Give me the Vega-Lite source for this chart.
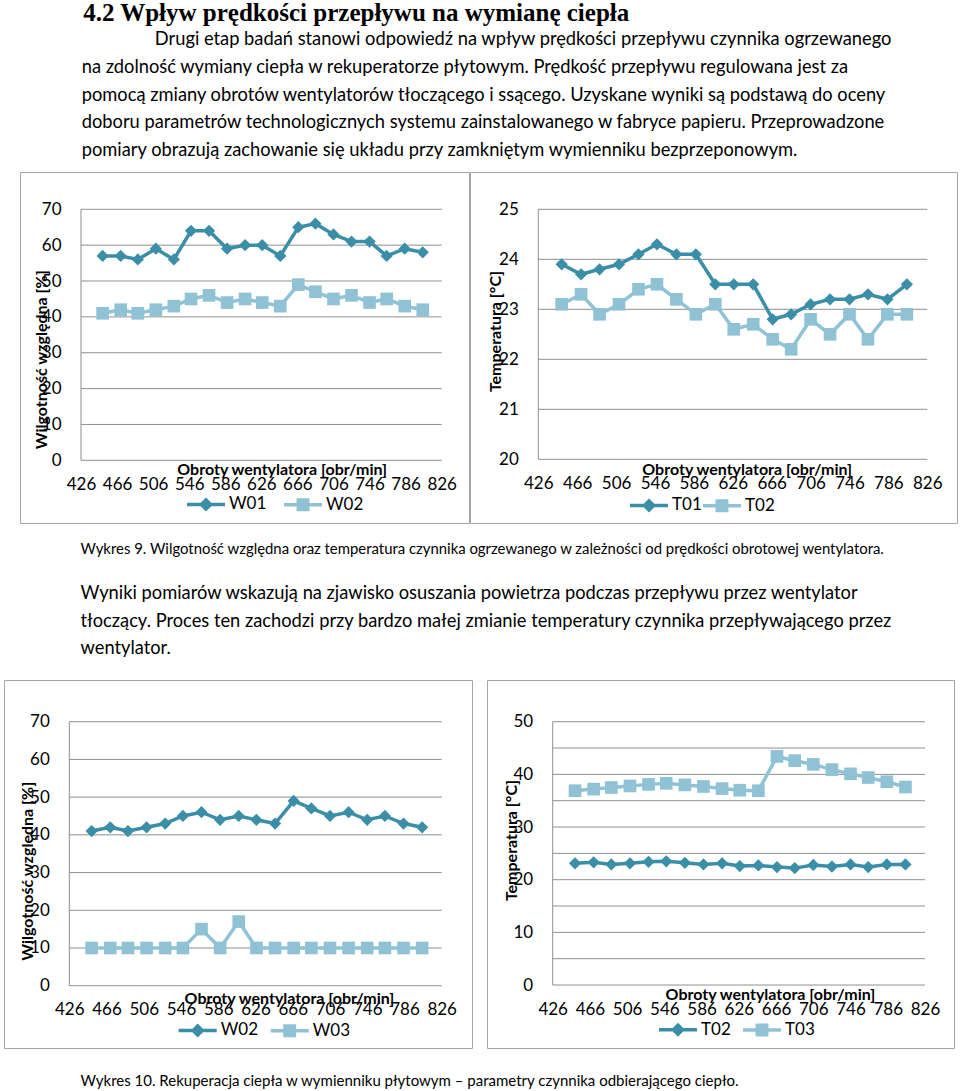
{
"$schema": "https://vega.github.io/schema/vega-lite/v6.json",
"background": "white",
"padding": {"left": 3, "top": 0, "right": 0, "bottom": 0},
"config": {
  "font": "Lato",
  "view": {"stroke": "#a5a5a5", "strokeWidth": 1},
  "axis": {"labelFont": "Lato", "titleFont": "Lato", "labelColor": "black", "titleColor": "black", "labelFontSize": 17, "titleFontSize": 16, "titleFontWeight": "bold", "domain": false, "ticks": false, "tickSize": 0, "grid": false, "labelPadding": 16, "labelOverlap": false, "labelFlush": false},
  "axisLeft": {"labelPadding": 20},
  "legend": {"labelFont": "Lato", "labelFontSize": 17, "labelColor": "black", "symbolOpacity": 1, "padding": 0},
  "title": {"color": "black", "subtitleColor": "black"}
},
"datasets": {
  "g1": [{"v":0},{"v":10},{"v":20},{"v":30},{"v":40},{"v":50},{"v":60},{"v":70}],
  "g2": [{"v":20},{"v":21},{"v":22},{"v":23},{"v":24},{"v":25}],
  "g4": [{"v":0},{"v":5},{"v":10},{"v":15},{"v":20},{"v":25},{"v":30},{"v":35},{"v":40},{"v":45},{"v":50}],
  "c1": [
    {"rpm":450,"series":"W01","value":57},{"rpm":470,"series":"W01","value":57},{"rpm":489,"series":"W01","value":56},{"rpm":509,"series":"W01","value":59},{"rpm":529,"series":"W01","value":56},{"rpm":548,"series":"W01","value":64},{"rpm":568,"series":"W01","value":64},{"rpm":588,"series":"W01","value":59},{"rpm":608,"series":"W01","value":60},{"rpm":627,"series":"W01","value":60},{"rpm":647,"series":"W01","value":57},{"rpm":667,"series":"W01","value":65},{"rpm":686,"series":"W01","value":66},{"rpm":706,"series":"W01","value":63},{"rpm":726,"series":"W01","value":61},{"rpm":746,"series":"W01","value":61},{"rpm":765,"series":"W01","value":57},{"rpm":785,"series":"W01","value":59},{"rpm":805,"series":"W01","value":58},
    {"rpm":450,"series":"W02","value":41},{"rpm":470,"series":"W02","value":42},{"rpm":489,"series":"W02","value":41},{"rpm":509,"series":"W02","value":42},{"rpm":529,"series":"W02","value":43},{"rpm":548,"series":"W02","value":45},{"rpm":568,"series":"W02","value":46},{"rpm":588,"series":"W02","value":44},{"rpm":608,"series":"W02","value":45},{"rpm":627,"series":"W02","value":44},{"rpm":647,"series":"W02","value":43},{"rpm":667,"series":"W02","value":49},{"rpm":686,"series":"W02","value":47},{"rpm":706,"series":"W02","value":45},{"rpm":726,"series":"W02","value":46},{"rpm":746,"series":"W02","value":44},{"rpm":765,"series":"W02","value":45},{"rpm":785,"series":"W02","value":43},{"rpm":805,"series":"W02","value":42}
  ],
  "c2": [
    {"rpm":450,"series":"T01","value":23.9},{"rpm":470,"series":"T01","value":23.7},{"rpm":489,"series":"T01","value":23.8},{"rpm":509,"series":"T01","value":23.9},{"rpm":529,"series":"T01","value":24.1},{"rpm":548,"series":"T01","value":24.3},{"rpm":568,"series":"T01","value":24.1},{"rpm":588,"series":"T01","value":24.1},{"rpm":608,"series":"T01","value":23.5},{"rpm":627,"series":"T01","value":23.5},{"rpm":647,"series":"T01","value":23.5},{"rpm":667,"series":"T01","value":22.8},{"rpm":686,"series":"T01","value":22.9},{"rpm":706,"series":"T01","value":23.1},{"rpm":726,"series":"T01","value":23.2},{"rpm":746,"series":"T01","value":23.2},{"rpm":765,"series":"T01","value":23.3},{"rpm":785,"series":"T01","value":23.2},{"rpm":805,"series":"T01","value":23.5},
    {"rpm":450,"series":"T02","value":23.1},{"rpm":470,"series":"T02","value":23.3},{"rpm":489,"series":"T02","value":22.9},{"rpm":509,"series":"T02","value":23.1},{"rpm":529,"series":"T02","value":23.4},{"rpm":548,"series":"T02","value":23.5},{"rpm":568,"series":"T02","value":23.2},{"rpm":588,"series":"T02","value":22.9},{"rpm":608,"series":"T02","value":23.1},{"rpm":627,"series":"T02","value":22.6},{"rpm":647,"series":"T02","value":22.7},{"rpm":667,"series":"T02","value":22.4},{"rpm":686,"series":"T02","value":22.2},{"rpm":706,"series":"T02","value":22.8},{"rpm":726,"series":"T02","value":22.5},{"rpm":746,"series":"T02","value":22.9},{"rpm":765,"series":"T02","value":22.4},{"rpm":785,"series":"T02","value":22.9},{"rpm":805,"series":"T02","value":22.9}
  ],
  "c3": [
    {"rpm":450,"series":"W02","value":41},{"rpm":470,"series":"W02","value":42},{"rpm":489,"series":"W02","value":41},{"rpm":509,"series":"W02","value":42},{"rpm":529,"series":"W02","value":43},{"rpm":548,"series":"W02","value":45},{"rpm":568,"series":"W02","value":46},{"rpm":588,"series":"W02","value":44},{"rpm":608,"series":"W02","value":45},{"rpm":627,"series":"W02","value":44},{"rpm":647,"series":"W02","value":43},{"rpm":667,"series":"W02","value":49},{"rpm":686,"series":"W02","value":47},{"rpm":706,"series":"W02","value":45},{"rpm":726,"series":"W02","value":46},{"rpm":746,"series":"W02","value":44},{"rpm":765,"series":"W02","value":45},{"rpm":785,"series":"W02","value":43},{"rpm":805,"series":"W02","value":42},
    {"rpm":450,"series":"W03","value":10},{"rpm":470,"series":"W03","value":10},{"rpm":489,"series":"W03","value":10},{"rpm":509,"series":"W03","value":10},{"rpm":529,"series":"W03","value":10},{"rpm":548,"series":"W03","value":10},{"rpm":568,"series":"W03","value":15},{"rpm":588,"series":"W03","value":10},{"rpm":608,"series":"W03","value":17},{"rpm":627,"series":"W03","value":10},{"rpm":647,"series":"W03","value":10},{"rpm":667,"series":"W03","value":10},{"rpm":686,"series":"W03","value":10},{"rpm":706,"series":"W03","value":10},{"rpm":726,"series":"W03","value":10},{"rpm":746,"series":"W03","value":10},{"rpm":765,"series":"W03","value":10},{"rpm":785,"series":"W03","value":10},{"rpm":805,"series":"W03","value":10}
  ],
  "c4": [
    {"rpm":450,"series":"T02","value":23.1},{"rpm":470,"series":"T02","value":23.3},{"rpm":489,"series":"T02","value":22.9},{"rpm":509,"series":"T02","value":23.1},{"rpm":529,"series":"T02","value":23.4},{"rpm":548,"series":"T02","value":23.5},{"rpm":568,"series":"T02","value":23.2},{"rpm":588,"series":"T02","value":22.9},{"rpm":608,"series":"T02","value":23.1},{"rpm":627,"series":"T02","value":22.6},{"rpm":647,"series":"T02","value":22.7},{"rpm":667,"series":"T02","value":22.4},{"rpm":686,"series":"T02","value":22.2},{"rpm":706,"series":"T02","value":22.8},{"rpm":726,"series":"T02","value":22.5},{"rpm":746,"series":"T02","value":22.9},{"rpm":765,"series":"T02","value":22.4},{"rpm":785,"series":"T02","value":22.9},{"rpm":805,"series":"T02","value":22.9},
    {"rpm":450,"series":"T03","value":36.9},{"rpm":470,"series":"T03","value":37.2},{"rpm":489,"series":"T03","value":37.5},{"rpm":509,"series":"T03","value":37.8},{"rpm":529,"series":"T03","value":38.1},{"rpm":548,"series":"T03","value":38.3},{"rpm":568,"series":"T03","value":38.0},{"rpm":588,"series":"T03","value":37.7},{"rpm":608,"series":"T03","value":37.3},{"rpm":627,"series":"T03","value":37.0},{"rpm":647,"series":"T03","value":36.9},{"rpm":667,"series":"T03","value":43.4},{"rpm":686,"series":"T03","value":42.6},{"rpm":706,"series":"T03","value":41.9},{"rpm":726,"series":"T03","value":40.9},{"rpm":746,"series":"T03","value":40.1},{"rpm":765,"series":"T03","value":39.4},{"rpm":785,"series":"T03","value":38.6},{"rpm":805,"series":"T03","value":37.6}
  ]
},
"title": {"text": "Wykres 10. Rekuperacja ciepła w wymienniku płytowym – parametry czynnika odbierającego ciepło.", "orient": "bottom", "anchor": "start", "dx": 77, "font": "Lato", "fontSize": 15, "fontWeight": "normal", "baseline": "top", "offset": 25},
"spacing": 17,
"resolve": {"scale": {"color": "independent", "shape": "independent", "stroke": "independent"}, "legend": {"color": "independent", "shape": "independent", "stroke": "independent"}},
"vconcat": [
  {
    "title": {
      "text": "\u200B\u2003\u2003\u2003\u20064.2 Wpływ prędkości przepływu na wymianę ciepła",
      "subtitle": [
        "\u200B\u2003\u2003\u2003\u2003\u2003\u2003\u2003\u2003\u2003\u2003\u2005\u2005\u2005Drugi etap badań stanowi odpowiedź na wpływ prędkości przepływu czynnika ogrzewanego",
        "\u200B\u2003\u2003\u2003\u2003\u2003\u2005\u2005na zdolność wymiany ciepła w rekuperatorze płytowym. Prędkość przepływu regulowana jest za",
        "\u200B\u2003\u2003\u2003\u2003\u2003\u2005\u2005pomocą zmiany obrotów wentylatorów tłoczącego i ssącego.  Uzyskane wyniki są podstawą do oceny",
        "\u200B\u2003\u2003\u2003\u2003\u2003\u2005\u2005doboru parametrów technologicznych systemu zainstalowanego w fabryce papieru. Przeprowadzone",
        "\u200B\u2003\u2003\u2003\u2003\u2003\u2005\u2005pomiary obrazują zachowanie się układu przy zamkniętym wymienniku bezprzeponowym."
      ],
      "anchor": "start", "font": "Liberation Serif", "fontSize": 25, "fontWeight": "bold",
      "subtitleFont": "Lato", "subtitleFontSize": 18.3, "subtitleLineHeight": 27.7, "subtitlePadding": 5.5, "offset": 12, "baseline": "top"
    },
    "spacing": -1,
    "resolve": {"scale": {"color": "independent", "shape": "independent", "stroke": "independent"}, "legend": {"color": "independent", "shape": "independent", "stroke": "independent"}},
    "hconcat": [
      {"width": 16, "height": 10, "data": {"values": []}, "mark": {"type": "point"}, "view": {"stroke": null}},
      {
        "width": 449, "height": 351,
        "layer": [
          {"data": {"name": "g1"}, "mark": {"type": "rule", "color": "#8f8f8f", "strokeWidth": 1},
           "encoding": {
             "x": {"datum": 426, "type": "quantitative", "scale": {"domain": [358.35, 856.3], "nice": false, "zero": false}},
             "x2": {"datum": 826},
             "y": {"field": "v", "type": "quantitative", "scale": {"domain": [-17.48, 80.4], "nice": false, "zero": false}}}},
          {"data": {"values": [{"a": 1}]}, "mark": {"type": "rule", "color": "#8f8f8f", "strokeWidth": 1},
           "encoding": {"x": {"datum": 426, "type": "quantitative"}, "y": {"datum": 0, "type": "quantitative"}, "y2": {"datum": 70}}},
          {"data": {"name": "c1"}, "mark": {"type": "line", "strokeWidth": 3.5},
           "encoding": {
             "x": {"field": "rpm", "type": "quantitative", "scale": {"domain": [358.35, 856.3], "nice": false, "zero": false},
                   "axis": {"orient": "bottom", "offset": -62.7, "values": [426,466,506,546,586,626,666,706,746,786,826], "title": "Obroty wentylatora [obr/min]", "titleX": 261.7, "titleY": 1.4, "titleBaseline": "top", "titleAlign": "center"}},
             "y": {"field": "value", "type": "quantitative", "scale": {"domain": [-17.48, 80.4], "nice": false, "zero": false},
                   "axis": {"orient": "left", "offset": -61, "values": [0,10,20,30,40,50,60,70], "title": "Wilgotność względna [%]", "titleX": -39.3, "titleY": 187.3, "titleAngle": -90, "titleBaseline": "middle", "titleAlign": "center"}},
             "stroke": {"field": "series", "type": "nominal", "scale": {"range": ["#3a8ea7", "#90c2d6"]}, "legend": null}}},
          {"data": {"name": "c1"}, "transform": [{"filter": {"field": "series", "equal": "W01"}}],
           "mark": {"type": "point", "shape": "diamond", "filled": true, "opacity": 1, "size": 150, "color": "#3a8ea7"},
           "encoding": {"x": {"field": "rpm", "type": "quantitative"}, "y": {"field": "value", "type": "quantitative"}}},
          {"data": {"name": "c1"}, "transform": [{"filter": {"field": "series", "equal": "W02"}}],
           "mark": {"type": "point", "shape": "square", "filled": true, "opacity": 1, "size": 160, "color": "#90c2d6"},
           "encoding": {"x": {"field": "rpm", "type": "quantitative"}, "y": {"field": "value", "type": "quantitative"}}},
          {"data": {"values": []}, "mark": {"type": "point", "filled": true, "opacity": 1},
           "encoding": {
             "shape": {"field": "series", "type": "nominal", "scale": {"domain": ["W01", "W02"], "range": ["M-1,-0.092H1V0.092H-1Z M0,-0.37L0.37,0L0,0.37L-0.37,0Z", "M-1,-0.092H1V0.092H-1Z M-0.34,-0.34H0.34V0.34H-0.34Z"]}},
             "color": {"field": "series", "type": "nominal", "scale": {"domain": ["W01", "W02"], "range": ["#3a8ea7", "#90c2d6"]},
                       "legend": {"orient": "none", "legendX": 166, "legendY": 312, "direction": "horizontal", "title": null, "symbolSize": 1444, "labelOffset": 3, "columnPadding": 14}}}}
        ]
      },
      {
        "width": 487, "height": 351,
        "layer": [
          {"data": {"name": "g2"}, "mark": {"type": "rule", "color": "#8f8f8f", "strokeWidth": 1},
           "encoding": {
             "x": {"datum": 426, "type": "quantitative", "scale": {"domain": [355.77, 856.54], "nice": false, "zero": false}},
             "x2": {"datum": 826},
             "y": {"field": "v", "type": "quantitative", "scale": {"domain": [18.726, 25.746], "nice": false, "zero": false}}}},
          {"data": {"values": [{"a": 1}]}, "mark": {"type": "rule", "color": "#8f8f8f", "strokeWidth": 1},
           "encoding": {"x": {"datum": 426, "type": "quantitative"}, "y": {"datum": 20, "type": "quantitative"}, "y2": {"datum": 25}}},
          {"data": {"name": "c2"}, "mark": {"type": "line", "strokeWidth": 3.5},
           "encoding": {
             "x": {"field": "rpm", "type": "quantitative", "scale": {"domain": [355.77, 856.54], "nice": false, "zero": false},
                   "axis": {"orient": "bottom", "offset": -63.7, "values": [426,466,506,546,586,626,666,706,746,786,826], "title": "Obroty wentylatora [obr/min]", "titleX": 276.7, "titleY": 1.8, "titleBaseline": "top", "titleAlign": "center"}},
             "y": {"field": "value", "type": "quantitative", "scale": {"domain": [18.726, 25.746], "nice": false, "zero": false},
                   "axis": {"orient": "left", "offset": -68.3, "values": [20,21,22,23,24,25], "title": "Temperatura [°C]", "titleX": -43.3, "titleY": 159, "titleAngle": -90, "titleBaseline": "middle", "titleAlign": "center"}},
             "stroke": {"field": "series", "type": "nominal", "scale": {"range": ["#3a8ea7", "#90c2d6"]}, "legend": null}}},
          {"data": {"name": "c2"}, "transform": [{"filter": {"field": "series", "equal": "T01"}}],
           "mark": {"type": "point", "shape": "diamond", "filled": true, "opacity": 1, "size": 150, "color": "#3a8ea7"},
           "encoding": {"x": {"field": "rpm", "type": "quantitative"}, "y": {"field": "value", "type": "quantitative"}}},
          {"data": {"name": "c2"}, "transform": [{"filter": {"field": "series", "equal": "T02"}}],
           "mark": {"type": "point", "shape": "square", "filled": true, "opacity": 1, "size": 160, "color": "#90c2d6"},
           "encoding": {"x": {"field": "rpm", "type": "quantitative"}, "y": {"field": "value", "type": "quantitative"}}},
          {"data": {"values": []}, "mark": {"type": "point", "filled": true, "opacity": 1},
           "encoding": {
             "shape": {"field": "series", "type": "nominal", "scale": {"domain": ["T01", "T02"], "range": ["M-1,-0.092H1V0.092H-1Z M0,-0.37L0.37,0L0,0.37L-0.37,0Z", "M-1,-0.092H1V0.092H-1Z M-0.34,-0.34H0.34V0.34H-0.34Z"]}},
             "color": {"field": "series", "type": "nominal", "scale": {"domain": ["T01", "T02"], "range": ["#3a8ea7", "#90c2d6"]},
                       "legend": {"orient": "none", "legendX": 159, "legendY": 313, "direction": "horizontal", "title": null, "symbolSize": 1444, "labelOffset": 3, "columnPadding": -6}}}}
        ]
      }
    ]
  },
  {
    "title": {
      "text": "Wykres 9. Wilgotność względna oraz temperatura czynnika ogrzewanego w zależności od prędkości obrotowej wentylatora.",
      "subtitle": [
        "Wyniki pomiarów wskazują na zjawisko osuszania powietrza podczas przepływu przez wentylator",
        "tłoczący. Proces ten zachodzi przy bardzo małej zmianie temperatury czynnika przepływającego przez",
        "wentylator."
      ],
      "anchor": "start", "dx": 77, "font": "Lato", "fontSize": 14.9, "fontWeight": "normal",
      "subtitleFont": "Lato", "subtitleFontSize": 18.3, "subtitleLineHeight": 27.5, "subtitlePadding": 28.5, "offset": 22, "baseline": "top"
    },
    "spacing": 13,
    "resolve": {"scale": {"color": "independent", "shape": "independent", "stroke": "independent"}, "legend": {"color": "independent", "shape": "independent", "stroke": "independent"}},
    "hconcat": [
      {
        "width": 468, "height": 368,
        "layer": [
          {"data": {"name": "g1"}, "mark": {"type": "rule", "color": "#8f8f8f", "strokeWidth": 1},
           "encoding": {
             "x": {"datum": 426, "type": "quantitative", "scale": {"domain": [355.86, 858.55], "nice": false, "zero": false}},
             "x2": {"datum": 826},
             "y": {"field": "v", "type": "quantitative", "scale": {"domain": [-16.52, 81.06], "nice": false, "zero": false}}}},
          {"data": {"values": [{"a": 1}]}, "mark": {"type": "rule", "color": "#8f8f8f", "strokeWidth": 1},
           "encoding": {"x": {"datum": 426, "type": "quantitative"}, "y": {"datum": 0, "type": "quantitative"}, "y2": {"datum": 70}}},
          {"data": {"name": "c3"}, "mark": {"type": "line", "strokeWidth": 3.5},
           "encoding": {
             "x": {"field": "rpm", "type": "quantitative", "scale": {"domain": [355.86, 858.55], "nice": false, "zero": false},
                   "axis": {"orient": "bottom", "offset": -62.3, "values": [426,466,506,546,586,626,666,706,746,786,826], "title": "Obroty wentylatora [obr/min]", "titleX": 285, "titleY": 4.9, "titleBaseline": "top", "titleAlign": "center"}},
             "y": {"field": "value", "type": "quantitative", "scale": {"domain": [-16.52, 81.06], "nice": false, "zero": false},
                   "axis": {"orient": "left", "offset": -65.3, "values": [0,10,20,30,40,50,60,70], "title": "Wilgotność względna [%]", "titleX": -42, "titleY": 190.8, "titleAngle": -90, "titleBaseline": "middle", "titleAlign": "center"}},
             "stroke": {"field": "series", "type": "nominal", "scale": {"range": ["#3a8ea7", "#90c2d6"]}, "legend": null}}},
          {"data": {"name": "c3"}, "transform": [{"filter": {"field": "series", "equal": "W02"}}],
           "mark": {"type": "point", "shape": "diamond", "filled": true, "opacity": 1, "size": 150, "color": "#3a8ea7"},
           "encoding": {"x": {"field": "rpm", "type": "quantitative"}, "y": {"field": "value", "type": "quantitative"}}},
          {"data": {"name": "c3"}, "transform": [{"filter": {"field": "series", "equal": "W03"}}],
           "mark": {"type": "point", "shape": "square", "filled": true, "opacity": 1, "size": 160, "color": "#90c2d6"},
           "encoding": {"x": {"field": "rpm", "type": "quantitative"}, "y": {"field": "value", "type": "quantitative"}}},
          {"data": {"values": []}, "mark": {"type": "point", "filled": true, "opacity": 1},
           "encoding": {
             "shape": {"field": "series", "type": "nominal", "scale": {"domain": ["W02", "W03"], "range": ["M-1,-0.092H1V0.092H-1Z M0,-0.37L0.37,0L0,0.37L-0.37,0Z", "M-1,-0.092H1V0.092H-1Z M-0.34,-0.34H0.34V0.34H-0.34Z"]}},
             "color": {"field": "series", "type": "nominal", "scale": {"domain": ["W02", "W03"], "range": ["#3a8ea7", "#90c2d6"]},
                       "legend": {"orient": "none", "legendX": 173.7, "legendY": 330, "direction": "horizontal", "title": null, "symbolSize": 1444, "labelOffset": 3, "columnPadding": 9}}}}
        ]
      },
      {
        "width": 467, "height": 368,
        "layer": [
          {"data": {"name": "g4"}, "mark": {"type": "rule", "color": "#8f8f8f", "strokeWidth": 1},
           "encoding": {
             "x": {"datum": 426, "type": "quantitative", "scale": {"domain": [355.41, 857.16], "nice": false, "zero": false}},
             "x2": {"datum": 826},
             "y": {"field": "v", "type": "quantitative", "scale": {"domain": [-11.96, 57.92], "nice": false, "zero": false}}}},
          {"data": {"values": [{"a": 1}]}, "mark": {"type": "rule", "color": "#8f8f8f", "strokeWidth": 1},
           "encoding": {"x": {"datum": 426, "type": "quantitative"}, "y": {"datum": 0, "type": "quantitative"}, "y2": {"datum": 50}}},
          {"data": {"name": "c4"}, "mark": {"type": "line", "strokeWidth": 3.5},
           "encoding": {
             "x": {"field": "rpm", "type": "quantitative", "scale": {"domain": [355.41, 857.16], "nice": false, "zero": false},
                   "axis": {"orient": "bottom", "offset": -63, "values": [426,466,506,546,586,626,666,706,746,786,826], "title": "Obroty wentylatora [obr/min]", "titleX": 283, "titleY": 1.5, "titleBaseline": "top", "titleAlign": "center"}},
             "y": {"field": "value", "type": "quantitative", "scale": {"domain": [-11.96, 57.92], "nice": false, "zero": false},
                   "axis": {"orient": "left", "offset": -65.7, "values": [0,5,10,15,20,25,30,35,40,45,50], "title": "Temperatura [°C]", "titleX": -41, "titleY": 160, "titleAngle": -90, "titleBaseline": "middle", "titleAlign": "center"}},
             "stroke": {"field": "series", "type": "nominal", "scale": {"range": ["#3a8ea7", "#90c2d6"]}, "legend": null}}},
          {"data": {"name": "c4"}, "transform": [{"filter": {"field": "series", "equal": "T02"}}],
           "mark": {"type": "point", "shape": "diamond", "filled": true, "opacity": 1, "size": 150, "color": "#3a8ea7"},
           "encoding": {"x": {"field": "rpm", "type": "quantitative"}, "y": {"field": "value", "type": "quantitative"}}},
          {"data": {"name": "c4"}, "transform": [{"filter": {"field": "series", "equal": "T03"}}],
           "mark": {"type": "point", "shape": "square", "filled": true, "opacity": 1, "size": 160, "color": "#90c2d6"},
           "encoding": {"x": {"field": "rpm", "type": "quantitative"}, "y": {"field": "value", "type": "quantitative"}}},
          {"data": {"values": []}, "mark": {"type": "point", "filled": true, "opacity": 1},
           "encoding": {
             "shape": {"field": "series", "type": "nominal", "scale": {"domain": ["T02", "T03"], "range": ["M-1,-0.092H1V0.092H-1Z M0,-0.37L0.37,0L0,0.37L-0.37,0Z", "M-1,-0.092H1V0.092H-1Z M-0.34,-0.34H0.34V0.34H-0.34Z"]}},
             "color": {"field": "series", "type": "nominal", "scale": {"domain": ["T02", "T03"], "range": ["#3a8ea7", "#90c2d6"]},
                       "legend": {"orient": "none", "legendX": 171, "legendY": 329.3, "direction": "horizontal", "title": null, "symbolSize": 1444, "labelOffset": 3, "columnPadding": 9}}}}
        ]
      }
    ]
  }
]
}
